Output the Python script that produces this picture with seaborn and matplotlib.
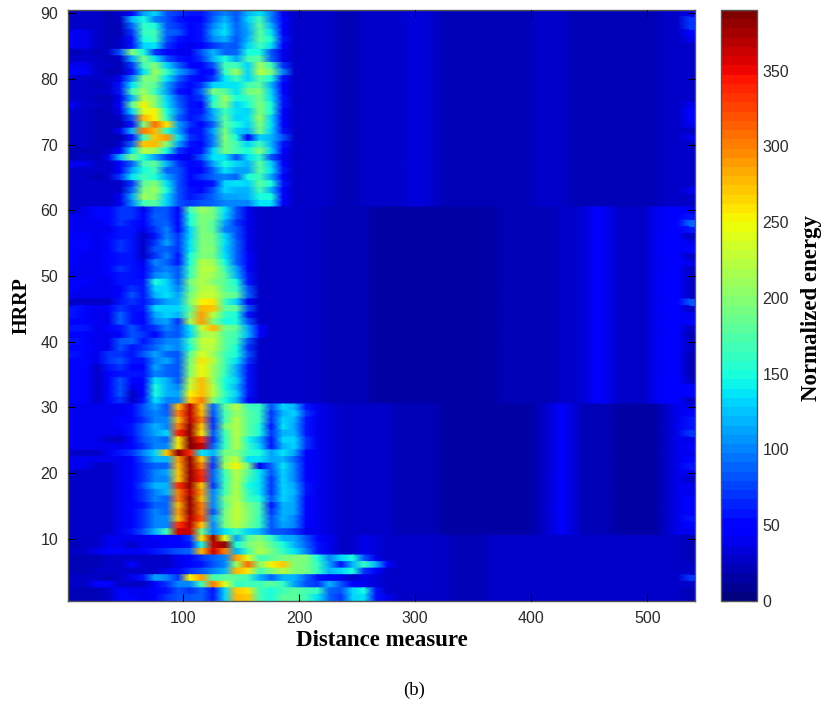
import numpy as np
import pandas as pd
import seaborn as sns
import matplotlib
matplotlib.use("Agg")
import matplotlib.pyplot as plt

sns.set_theme(style="white")

# Energy, in units of ten. Each row starts at distance 1,
# one value per 10 distance units; the tail list supplies the quiet far range.
rows_90_61 = [
 [3,3,3,2,3,5,11,13,8,7,6,6,8,10,8,12,14,10,4],
 [3,3,3,2,3,12,15,10,8,6,5,5,9,12,8,13,17,10,5],
 [3,3,3,2,2,9,16,15,8,7,5,6,10,13,9,12,18,12,5],
 [4,4,3,2,2,7,16,17,9,8,5,6,11,14,9,11,18,14,5],
 [4,4,3,2,3,6,15,16,8,6,5,6,10,12,8,12,18,15,6],
 [4,4,3,2,3,6,13,14,7,5,4,5,7,9,8,13,17,14,5],
 [2,3,2,3,8,20,15,7,5,4,4,8,12,9,9,15,15,8,4],
 [3,3,3,2,3,11,19,14,8,6,5,7,12,15,11,17,18,9,4],
 [4,4,3,3,2,7,17,20,13,9,5,5,8,17,17,13,21,17,7],
 [5,5,3,2,2,6,14,21,16,11,8,5,6,16,21,13,22,19,10],
 [3,3,3,3,4,10,19,20,14,9,6,5,7,14,17,13,18,15,6],
 [3,3,2,3,6,14,19,18,11,7,5,7,13,14,14,17,18,12,5],
 [3,3,3,3,6,17,21,16,11,6,5,9,19,18,14,19,20,13,5],
 [3,3,2,2,4,12,22,20,13,8,6,7,15,21,15,16,19,14,6],
 [4,3,3,2,5,18,25,20,14,9,6,5,16,20,13,15,20,15,6],
 [3,3,2,2,4,13,24,25,15,10,6,6,12,17,14,13,20,15,5],
 [3,3,2,2,3,8,28,25,16,9,6,7,11,18,13,14,21,13,5],
 [3,3,2,2,2,6,20,31,26,11,7,5,9,18,15,13,20,14,5],
 [3,3,2,2,4,12,30,28,16,11,6,6,11,19,13,12,19,13,6],
 [3,3,2,2,2,6,17,27,29,14,7,6,10,20,15,5,13,12,8],
 [3,3,2,2,3,9,27,28,20,11,6,5,10,19,17,13,17,12,6],
 [2,2,2,3,5,14,22,21,15,7,5,6,13,19,17,15,20,13,5],
 [2,3,2,4,12,19,15,11,7,5,4,8,14,14,8,14,16,8,4],
 [4,4,3,3,5,9,17,18,12,7,5,6,11,15,13,12,18,13,5],
 [3,3,3,3,5,11,15,17,9,8,5,5,9,14,11,11,18,14,6],
 [3,3,2,3,7,14,17,15,11,8,5,7,9,10,9,15,17,11,5],
 [3,3,3,3,3,7,18,20,14,8,5,5,6,13,14,13,18,15,6],
 [3,3,3,3,3,9,19,21,15,8,6,5,8,13,12,12,17,12,5],
 [3,3,3,3,4,11,21,20,13,8,6,7,9,11,11,12,15,15,5],
 [3,3,3,3,4,10,17,18,13,8,7,8,9,10,10,10,14,14,5],
]
rows_60_31 = [
 [3,4,5,5,7,7,4,8,8,5,17,21,19,14,8,4],
 [4,4,5,5,7,7,5,9,8,5,15,20,19,13,8,4],
 [4,4,4,5,7,6,5,8,9,5,15,20,18,11,7,4],
 [4,4,4,4,6,6,4,7,10,5,13,20,18,10,8,4],
 [5,5,4,5,6,6,3,6,10,7,13,20,19,13,8,4],
 [5,5,4,5,7,6,3,7,11,7,14,20,19,14,9,4],
 [5,5,4,5,7,6,3,8,9,7,14,20,20,13,9,4],
 [5,4,4,5,6,6,3,7,10,6,15,20,19,14,9,5],
 [5,4,4,5,6,6,4,10,9,6,15,22,21,15,9,5],
 [4,4,4,5,7,6,5,9,10,8,16,22,22,17,11,5],
 [4,4,4,5,6,6,5,10,11,8,16,22,21,18,12,6],
 [5,5,4,4,6,6,6,15,13,9,19,22,20,18,15,6],
 [5,4,4,4,5,7,6,13,13,10,18,22,22,18,16,8],
 [4,4,4,4,5,8,6,12,14,11,19,23,23,19,18,9],
 [3,3,3,3,6,7,6,9,11,12,20,25,26,17,13,4],
 [6,5,4,5,7,6,6,13,13,13,18,28,27,18,18,8],
 [6,5,4,4,9,6,5,11,13,12,19,29,22,16,15,6],
 [5,5,4,4,9,6,5,10,11,7,21,29,20,15,15,8],
 [6,6,4,5,6,8,6,7,10,8,14,23,28,19,18,11,5],
 [5,5,4,4,5,8,7,5,9,8,13,21,22,18,17,12,5],
 [6,5,4,4,8,9,6,8,10,10,16,23,23,18,16,8],
 [5,5,4,4,8,6,7,9,11,10,15,22,22,18,15,7],
 [6,5,4,7,7,6,8,11,9,8,18,24,21,17,15,8],
 [5,5,4,7,8,6,6,10,11,8,19,26,22,17,14,7],
 [5,5,3,6,7,5,5,11,9,8,20,25,21,17,12,6],
 [5,5,3,5,6,6,6,10,9,8,20,25,21,16,12,6],
 [5,5,3,5,8,5,5,14,12,8,22,28,21,15,13,6],
 [5,5,3,5,8,4,5,15,12,10,23,28,22,15,12,6],
 [5,5,3,5,8,3,5,15,12,11,25,28,22,16,13,6],
 [5,5,3,5,7,3,6,14,10,10,27,30,20,15,12,5],
]
rows_30_11 = [
 [4,4,4,4,4,5,8,11,8,28,37,27,9,18,22,17,16,8,13,12,6],
 [4,4,4,4,4,5,8,10,9,30,37,28,8,17,21,18,16,7,12,13,7],
 [4,4,4,4,5,5,7,10,10,28,37,30,7,17,22,18,16,7,13,12,6],
 [4,4,4,4,5,6,9,12,10,30,38,27,7,19,22,18,15,6,14,11,6],
 [4,4,4,4,4,6,9,11,13,34,38,26,8,17,22,18,15,7,12,12,6],
 [4,4,4,3,3,5,8,10,9,26,39,33,7,16,22,15,12,6,13,13,7],
 [4,4,4,4,4,5,7,10,10,26,39,36,9,16,22,16,13,6,12,13,7],
 [3,3,3,4,6,7,10,13,27,38,34,14,12,19,20,16,15,11,14,11,5],
 [4,4,4,4,4,5,8,12,12,29,38,27,8,20,23,14,14,11,12,9,5],
 [4,4,3,3,4,5,7,9,9,28,38,30,7,21,25,19,5,9,14,10,5],
 [3,3,3,3,4,5,7,10,11,27,38,33,9,17,22,18,14,8,13,10,5],
 [3,3,3,3,4,5,7,10,10,27,38,34,9,16,22,17,14,7,13,10,5],
 [3,3,3,3,4,5,8,12,12,33,38,27,7,17,22,15,14,7,13,11,6],
 [3,3,3,3,4,5,7,10,12,30,37,29,10,17,22,16,14,7,13,12,6],
 [3,3,3,3,4,5,7,10,9,30,38,28,10,19,22,17,15,8,13,11,5],
 [3,3,3,3,4,5,6,9,9,28,38,30,10,18,23,19,17,6,12,11,5],
 [3,3,3,3,4,5,7,10,9,29,38,30,8,19,23,20,17,7,12,11,5],
 [3,3,3,3,4,5,7,10,10,28,37,32,11,19,23,20,16,8,12,10,5],
 [3,3,3,3,4,5,7,10,10,33,37,27,10,19,22,19,16,8,11,10,5],
 [3,3,3,3,4,6,8,12,17,36,36,19,10,14,16,13,12,8,8,7,4],
]
rows_10_1 = [
 [3,3,3,4,4,4,4,5,5,5,7,26,38,24,11,18,20,16,12,11,8,5,4],
 [2,3,3,4,4,3,4,4,5,5,6,15,36,38,15,19,21,18,15,12,9,6,4],
 [3,3,4,5,5,4,5,6,7,8,9,28,36,30,12,17,22,19,16,14,10,6,4],
 [2,2,2,3,3,3,3,3,3,4,5,7,9,10,29,24,17,18,19,20,20,15,10,13,15,8,4],
 [2,2,2,3,3,5,3,3,3,4,5,6,8,10,21,31,20,25,27,20,19,16,11,6,12,16,12,5],
 [2,2,3,3,3,3,3,3,4,5,7,8,10,12,28,26,17,20,22,20,19,16,12,13,15,7,5],
 [3,3,3,2,3,4,6,11,10,7,25,29,17,18,18,17,12,9,12,12,9,6,5,4],
 [3,3,5,5,3,3,3,5,7,10,10,17,30,24,16,17,17,18,16,11,8,7,12,8,5],
 [2,2,2,3,5,4,4,5,6,8,7,9,6,13,27,26,17,15,17,18,17,16,9,8,13,15,6],
 [2,2,2,3,5,5,4,5,7,8,8,9,6,13,28,27,17,15,18,18,17,14,9,7,13,14,6,4],
]
tail_90_61 = [3,3,3,3,3,3,3,3,3,3,3,3,3,3,3,3,3,3,3,3,3,2.5,2.5,2,2,2.5,2.5,2.5,3,3.5,3.5,2.5,2,2,2,2,2,2,2,2,2.5,2.5,2.5,2,2,2,2,2,2,2,2,2.5,3,3.5]
tail_60_31 = [3,3,3,3,3,3,3,3,3,3,3,3,3,3,3,3,3,3,3,3,2.5,2.5,2,2,2,2,1.5,1.5,1.5,1.5,1.5,1.5,1.5,1.5,1.5,1.5,1.5,2,2,2,2,2,2.5,2.5,3.5,4.5,4,2.5,2.5,3,4,4.5,4.5,5]
tail_30_11 = [3,3,3,3,3,3,3,3,3,3,3,3,3,3,3,3,3,3,3,3,3,4,3.5,3,3,2.5,2.5,2.5,2,2,2,2,1.5,1.5,1.5,1.5,1.5,1.5,1.5,1.5,2,3.5,4.5,3.5,2,2,2,1.5,1.5,1.5,1.5,2.5,4,5.5]
tail_10_1 = [3,3,3,3,3,3,3,3,3,3,3,3,3,3,3,3,3,3,3,3,3,3,3,3,3,4,3.5,3,3,2.5,2.5,2.5,2.5,2,2,2,2.5,2.5,2.5,2.5,2.5,2.5,3,3,2.5,3,3,3,3,3,3,3,3,3]
edge_column = [4,7,7,5,4,3,3,3,3,3,3,3,3,3,4,5,5,4,3,4,3,3,3,3,3,3,3,4,3,3,
               4,6,9,6,3,4,5,3,4,3,3,3,3,3,8,3,4,5,3,2,3,3,2,2,2,2,3,5,5,3,
               4,5,6,6,7,4,5,4,5,6,4,3,4,4,5,5,5,6,5,4,
               2,2,2,2,3,3,7,3,2,2]

x_ticks = [100, 200, 300, 400, 500]
y_ticks = [10, 20, 30, 40, 50, 60, 70, 80, 90]
cbar_ticks = [0, 50, 100, 150, 200, 250, 300, 350]
energy_max = 390
n_cols = 54
n_rows = 90

def block(rows, tail):
    return [list(r) + tail[len(r):] for r in rows]

M = np.array(block(rows_90_61, tail_90_61) + block(rows_60_31, tail_60_31)
             + block(rows_30_11, tail_30_11) + block(rows_10_1, tail_10_1), dtype=float) * 10
M[:, -1] = np.array(edge_column, dtype=float) * 10
df = pd.DataFrame(M, index=range(90, 0, -1), columns=[1 + 10 * j for j in range(n_cols)])

W, H = 826, 703
fig = plt.figure(figsize=(W / 100, H / 100), dpi=100)
ax = fig.add_axes([68 / W, 1 - 601 / H, 627 / W, 591 / H])
cax = fig.add_axes([721 / W, 1 - 601 / H, 36 / W, 591 / H])
cmap = plt.get_cmap("jet", 64)

sns.heatmap(df, ax=ax, cbar_ax=cax, cmap=cmap, vmin=0, vmax=energy_max,
            xticklabels=False, yticklabels=False)

# Same cells, blended across each row as in the reference image
Xn, Yn = np.meshgrid(np.arange(n_cols) + 0.5,
                     np.repeat(np.arange(n_rows + 1), 2)[1:-1])
ax.pcolormesh(Xn, Yn, np.repeat(M, 2, axis=0), shading="gouraud", cmap=cmap,
              vmin=0, vmax=energy_max, zorder=1.5)
ax.set_xlim(0, n_cols)
ax.set_ylim(n_rows, 0)

tick_col = "#2b2b2b"
ax.set_xticks([(v - 1) / 10 for v in x_ticks], [str(v) for v in x_ticks],
              family="Liberation Sans", fontsize=11.5, color=tick_col)
ax.set_yticks([90.5 - v for v in y_ticks], [str(v) for v in y_ticks],
              family="Liberation Sans", fontsize=11.5, color=tick_col)
ax.set_axisbelow(False)
ax.tick_params(axis="both", direction="in", length=5, width=0.8, color="black",
               top=True, right=True, bottom=True, left=True, pad=7)
for s in ax.spines.values():
    s.set_visible(True)
    s.set_color("#555555")
    s.set_linewidth(1.0)

label_font = dict(family="Liberation Serif", fontweight="bold", color="black")
ax.set_xlabel("Distance measure", labelpad=3, fontsize=16.5, **label_font)
ax.set_ylabel("HRRP", labelpad=6, fontsize=14.5, **label_font)

cbar = ax.collections[0].colorbar
cbar.set_ticks(cbar_ticks)
cbar.set_ticklabels([str(v) for v in cbar_ticks], family="Liberation Sans",
                    fontsize=11.5, color=tick_col)
cax.tick_params(axis="y", direction="in", length=5, width=0.8, color="black",
                left=True, right=True, pad=4)
cbar.outline.set_visible(True)
cbar.outline.set_edgecolor("#555555")
cbar.outline.set_linewidth(1.0)

fig.text(812 / W, 1 - 308 / H, "Normalized energy", rotation=90, ha="center", va="center",
         fontsize=16.5, **label_font)
fig.text(414 / W, 1 - 690 / H, "(b)", ha="center", va="center",
         family="Liberation Serif", fontsize=13.5, color="black")

fig.savefig("out.png", dpi=100)
